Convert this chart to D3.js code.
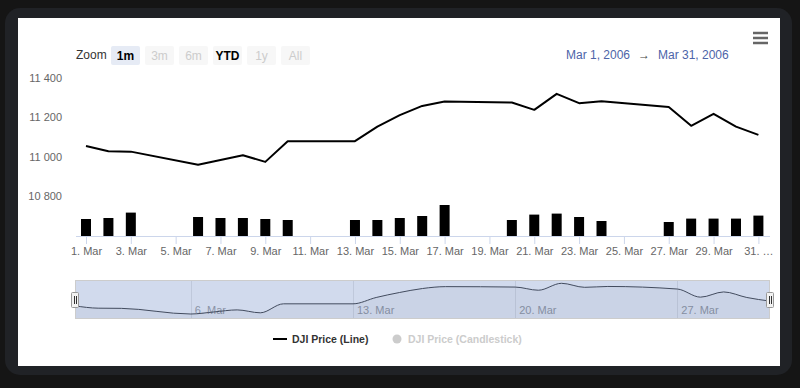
<!DOCTYPE html>
<html>
<head>
<meta charset="utf-8">
<script src="https://cdn.jsdelivr.net/npm/d3@7"></script>
<style>
  html, body { margin: 0; padding: 0; background: #151515; }
  svg { display: block; font-family: "Liberation Sans", Arial, sans-serif; }
</style>
</head>
<body>
<svg id="chart" width="800" height="388"></svg>
<script>
// trading days of March 2006
const tradeDays = [1, 2, 3, 6, 7, 8, 9, 10, 13, 14, 15, 16, 17, 20, 21, 22, 23, 24, 27, 28, 29, 30, 31]
const closes = [11054, 11027, 11025, 10959, 10983, 11007, 10973, 11078, 11078, 11152, 11210, 11257,
  11279, 11274, 11237, 11318, 11271, 11281, 11251, 11156, 11217, 11152, 11110]
const volumes = [170, 180, 234, 190, 180, 180, 170, 160, 160, 160, 180, 200,
  310, 160, 214, 224, 190, 150, 140, 174, 174, 174, 204]

const xTickDays = [1, 3, 5, 7, 9, 11, 13, 15, 17, 19, 21, 23, 25, 27, 29, 31]
const xTickLabels = ["1. Mar", "3. Mar", "5. Mar", "7. Mar", "9. Mar", "11. Mar", "13. Mar", "15. Mar",
  "17. Mar", "19. Mar", "21. Mar", "23. Mar", "25. Mar", "27. Mar", "29. Mar", "31. …"]
const yTicks = [10800, 11000, 11200, 11400]
const navTickDays = [6, 13, 20, 27]
const navTickLabels = ["6. Mar", "13. Mar", "20. Mar", "27. Mar"]
const buttons = [
  { label: "1m", state: "selected" },
  { label: "3m", state: "disabled" },
  { label: "6m", state: "disabled" },
  { label: "YTD", state: "normal" },
  { label: "1y", state: "disabled" },
  { label: "All", state: "disabled" },
]

const day = d => new Date(Date.UTC(2006, 2, d))
const data = tradeDays.map((d, i) => ({ date: day(d), close: closes[i], volume: volumes[i] }))

const svg = d3.select("#chart")

// frame + panel
svg.append("rect").attr("x", 5).attr("y", 8).attr("width", 787).attr("height", 367)
  .attr("rx", 15).attr("fill", "#202226")
svg.append("rect").attr("x", 18).attr("y", 18).attr("width", 762).attr("height", 348)
  .attr("fill", "#ffffff")

const plot = { left: 76, right: 770, top: 60, bottom: 236 }

const x = d3.scaleUtc().domain([day(1), day(31)]).range([86, 758.4])
const y = d3.scaleLinear().domain([10800, 11400]).range([196, 77.7])
const yVol = d3.scaleLinear().domain([0, 360]).range([plot.bottom, plot.bottom - 36])

svg.append("clipPath").attr("id", "plotclip").append("rect")
  .attr("x", plot.left).attr("y", plot.top).attr("width", plot.right - plot.left).attr("height", plot.bottom - plot.top)

// y axis labels
const fmt = d3.formatLocale({ decimal: ".", thousands: " ", grouping: [3], currency: ["", ""] }).format(",")
const yAxis = d3.axisLeft(y).tickValues(yTicks).tickFormat(fmt).tickSize(0).tickPadding(0)
svg.append("g").attr("transform", "translate(62,0)").call(yAxis)
  .call(g => g.select(".domain").remove())
  .call(g => g.selectAll("text").attr("fill", "#666").attr("font-size", 11).attr("dy", "0.35em"))

// volume columns
svg.append("g").attr("clip-path", "url(#plotclip)")
  .selectAll("rect").data(data).join("rect")
  .attr("x", d => x(d.date) - 5)
  .attr("width", 10)
  .attr("y", d => yVol(d.volume))
  .attr("height", d => plot.bottom - yVol(d.volume))
  .attr("fill", "#000")

// price line
const line = d3.line().x(d => x(d.date)).y(d => y(d.close))
svg.append("path").datum(data).attr("clip-path", "url(#plotclip)")
  .attr("d", line).attr("fill", "none").attr("stroke", "#000").attr("stroke-width", 2)
  .attr("stroke-linejoin", "round")

// x axis
const xAxis = d3.axisBottom(x).tickValues(xTickDays.map(day))
  .tickFormat((d, i) => xTickLabels[i]).tickSize(8).tickPadding(3)
svg.append("g").attr("transform", `translate(0,${plot.bottom})`).call(xAxis)
  .call(g => g.select(".domain").remove())
  .call(g => g.selectAll("line").attr("stroke", "#ccd6eb"))
  .call(g => g.selectAll("text").attr("fill", "#666").attr("font-size", 11))
svg.append("line").attr("x1", plot.left).attr("x2", plot.right)
  .attr("y1", plot.bottom + 0.5).attr("y2", plot.bottom + 0.5).attr("stroke", "#ccd6eb")

// navigator
const nav = { left: 75, right: 770, top: 281, bottom: 318 }
const xNav = d3.scaleUtc().domain([day(1), day(31)]).range([nav.left, nav.right])
const yNav = d3.scaleLinear().domain(d3.extent(closes)).range([314, 283.3])

const navG = svg.append("g")
navG.selectAll("line.grid").data(navTickDays).join("line").attr("class", "grid")
  .attr("x1", d => Math.round(xNav(day(d))) + 0.5).attr("x2", d => Math.round(xNav(day(d))) + 0.5)
  .attr("y1", nav.top).attr("y2", nav.bottom).attr("stroke", "#e6e6e6")
navG.selectAll("text").data(navTickDays).join("text")
  .attr("x", d => xNav(day(d)) + 4).attr("y", 310).attr("dy", "0.35em")
  .attr("fill", "#999").attr("font-size", 11)
  .text((d, i) => navTickLabels[i])

const navArea = d3.area().curve(d3.curveMonotoneX)
  .x(d => xNav(d.date)).y0(nav.bottom).y1(d => yNav(d.close))
const navLine = d3.line().curve(d3.curveMonotoneX)
  .x(d => xNav(d.date)).y(d => yNav(d.close))
navG.append("path").datum(data).attr("d", navArea).attr("fill", "#000").attr("fill-opacity", 0.04)
navG.append("path").datum(data).attr("d", navLine).attr("fill", "none")
  .attr("stroke", "#333").attr("stroke-width", 1)

// mask (whole range selected)
navG.append("rect").attr("x", nav.left).attr("y", nav.top)
  .attr("width", nav.right - nav.left).attr("height", nav.bottom - nav.top)
  .attr("fill", "rgba(102,133,194,0.3)")
navG.append("rect").attr("x", nav.left + 0.5).attr("y", nav.top - 0.5)
  .attr("width", nav.right - nav.left - 1).attr("height", nav.bottom - nav.top + 1)
  .attr("fill", "none").attr("stroke", "#cccccc")

// handles
const handles = navG.selectAll("g.handle").data([nav.left, nav.right]).join("g")
  .attr("class", "handle")
  .attr("transform", d => `translate(${Math.round(d)},${Math.round((nav.top + nav.bottom) / 2)})`)
handles.append("rect").attr("x", -3.5).attr("y", -7.5).attr("width", 7).attr("height", 15)
  .attr("rx", 1).attr("fill", "#f2f2f2").attr("stroke", "#999")
handles.selectAll("line").data([-1, 1]).join("line")
  .attr("x1", d => d + 0.5).attr("x2", d => d + 0.5).attr("y1", -4).attr("y2", 4)
  .attr("stroke", "#333")

// range selector
svg.append("text").attr("x", 76).attr("y", 55).attr("dy", "0.35em")
  .attr("fill", "#333").attr("font-size", 12).text("Zoom")
const btn = svg.selectAll("g.btn").data(buttons).join("g").attr("class", "btn")
  .attr("transform", (d, i) => `translate(${111 + i * 34},46)`)
btn.append("rect").attr("width", 29).attr("height", 19).attr("rx", 2)
  .attr("fill", d => d.state === "selected" ? "#e6ebf5" : "#f7f7f7")
btn.append("text").attr("x", 14.5).attr("y", 9.5).attr("dy", "0.35em").attr("text-anchor", "middle")
  .attr("font-size", 12)
  .attr("font-weight", d => d.state === "disabled" ? "normal" : "bold")
  .attr("fill", d => d.state === "disabled" ? "#cccccc" : "#000")
  .text(d => d.label)

// date inputs
const dateFmt = d3.utcFormat("%b %-d, %Y")
svg.append("text").attr("x", 566).attr("y", 54.5).attr("dy", "0.35em")
  .attr("fill", "#4d64a8").attr("font-size", 12).text(dateFmt(day(1)))
svg.append("text").attr("x", 644).attr("y", 54.5).attr("dy", "0.35em").attr("text-anchor", "middle")
  .attr("fill", "#444").attr("font-size", 12).text("→")
svg.append("text").attr("x", 658).attr("y", 54.5).attr("dy", "0.35em")
  .attr("fill", "#4d64a8").attr("font-size", 12).text(dateFmt(day(31)))

// menu icon
svg.selectAll("line.menu").data([33, 38, 43]).join("line").attr("class", "menu")
  .attr("x1", 753).attr("x2", 768).attr("y1", d => d).attr("y2", d => d)
  .attr("stroke", "#666").attr("stroke-width", 2.5)

// legend
const legend = svg.append("g").attr("transform", "translate(0,339)")
legend.append("line").attr("x1", 273).attr("x2", 287).attr("y1", 0).attr("y2", 0)
  .attr("stroke", "#000").attr("stroke-width", 2)
legend.append("text").attr("x", 292).attr("dy", "0.35em").attr("font-size", 10.5)
  .attr("font-weight", "bold").attr("fill", "#333").text("DJI Price (Line)")
legend.append("circle").attr("cx", 397).attr("cy", 0).attr("r", 4.5).attr("fill", "#cccccc")
legend.append("text").attr("x", 408).attr("dy", "0.35em").attr("font-size", 10.5)
  .attr("font-weight", "bold").attr("fill", "#cccccc").text("DJI Price (Candlestick)")
</script>
</body>
</html>
